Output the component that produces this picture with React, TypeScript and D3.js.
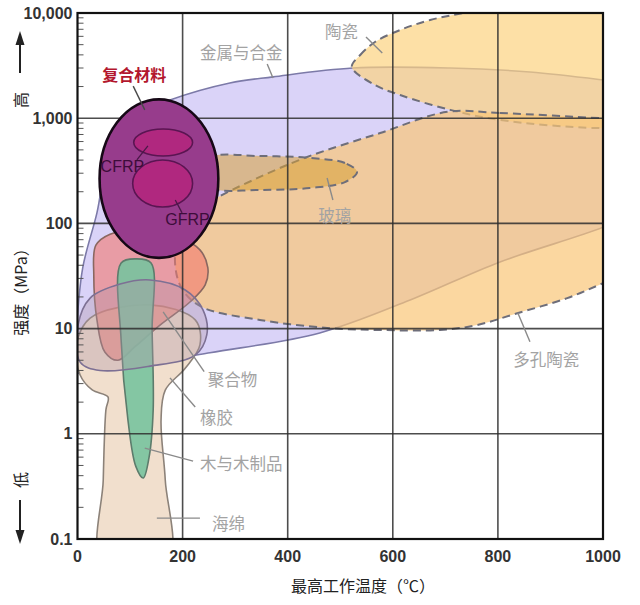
import React from "react";
import * as d3 from "d3";

const W = 640;
const H = 605;

// 每个区域的轮廓点：[最高工作温度 ℃, 强度 MPa]
const metals: [number, number][] = [
  [-5, 3.9], [-2, 9.7], [10, 38], [37, 126], [62, 500], [109, 1070], [176, 1490],
  [290, 2160], [372, 2470], [524, 3000], [709, 3000], [861, 2750], [1000, 2310],
  [1070, 2070], [1070, 134], [1000, 92], [804, 43], [633, 18.7], [461, 9.1],
  [252, 5.9], [81, 4.3],
];
const ceramics: [number, number][] = [
  [522, 3070], [538, 3990], [566, 5300], [614, 6890], [671, 8570], [747, 10200],
  [918, 12700], [1108, 11900], [1165, 2870], [1089, 861], [989, 807], [804, 962],
  [709, 1200], [614, 1660], [566, 2070],
];
const porousCeramics: [number, number][] = [
  [704, 1150], [804, 1120], [1000, 1000], [1108, 960], [1146, 56], [1000, 27],
  [932, 19.5], [837, 14], [760, 10.8], [690, 9.7], [576, 9.7], [480, 10.1],
  [347, 12.1], [233, 16.4], [195, 26], [186, 56], [205, 108], [258, 167],
  [334, 258], [437, 428], [576, 723],
];
const glass: [number, number][] = [
  [532, 308], [509, 375], [442, 419], [347, 437], [252, 428], [224, 308],
  [252, 217], [347, 208], [442, 217], [509, 247],
];
const foams: [number, number][] = [
  [47, 0.063], [49, 0.364], [54, 1.68], [58, 2.24], [28, 2.61], [5, 3.62], [-2, 7.0],
  [24, 12.6], [138, 16.8], [224, 12.1], [233, 7.0], [205, 4.2], [167, 2.6],
  [159, 1.35], [167, 0.364], [172, 0.063],
];
const polymers: [number, number][] = [
  [35, 62], [62, 79], [119, 86], [195, 73], [233, 56], [248, 38], [243, 26],
  [214, 17.9], [157, 10.8], [109, 6.7], [77, 5.0], [52, 6.0], [37, 12.1], [31, 32],
];
const woods: [number, number][] = [
  [83, 42], [111, 46], [140, 42], [142, 9.7], [144, 1.68], [136, 0.59], [125, 0.38],
  [111, 0.49], [96, 1.35], [83, 7.8],
];
const elastomers: [number, number][] = [
  [1, 10.8], [24, 19.5], [81, 26.5], [138, 29], [205, 23.3], [239, 15], [246, 8.7],
  [224, 5.6], [138, 4.4], [43, 4.0], [5, 4.8],
];

// 椭圆范围：[T最小, T最大, 强度最小, 强度最大]
const compositeRange = [42, 268, 47, 1510];
const cfrpRange = [107, 219, 437, 789];
const gfrpRange = [105, 219, 143, 401];

// 坐标轴
const xTicks = [0, 200, 400, 600, 800, 1000];
const yTicks = [0.1, 1, 10, 100, 1000, 10000];
const yTickLabels = ["0.1", "1", "10", "100", "1,000", "10,000"];

// 标注：文字、文字位置（左端、垂直中心）、引线两端
const labelNames = ["金属与合金", "陶瓷", "玻璃", "多孔陶瓷", "聚合物", "橡胶", "木与木制品", "海绵"];
const labelAt: [number, number][] = [
  [233, 4260], [471, 6740], [458, 120], [829, 5.14], [248, 3.32], [233, 1.44], [233, 0.527], [256, 0.142],
];
const labelLeaders: [number, number][][] = [
  [[361, 3270], [372, 2410]],
  [[549, 5910], [580, 4170]],
  [[475, 270], [486, 167]],
  [[838, 14.1], [861, 7.5]],
  [[163, 14.4], [241, 3.9]],
  [[176, 3.4], [224, 1.8]],
  [[128, 0.73], [220, 0.55]],
  [[151, 0.158], [233, 0.158]],
];

const compLabelAt: [number, number] = [47, 2630];
const compLeader: [number, number][] = [[106, 2020], [128, 1200]];
const cfrpLabelAt: [number, number] = [44, 344];
const cfrpLeader: [number, number][] = [[113, 401], [134, 545]];
const gfrpLabelAt: [number, number] = [167, 108];
const gfrpLeader: [number, number][] = [[186, 167], [199, 126]];

const CJK = "'Noto Sans CJK SC', 'Noto Sans', sans-serif";
const NUM = "'Liberation Sans', Arial, sans-serif";

export default function App() {
  const x = d3.scaleLinear().domain([0, 1000]).range([77.5, 603]);
  const y = d3.scaleLog().domain([0.1, 10000]).range([539, 13]);
  const [x0, x1] = x.range();
  const [y0, y1] = y.range();

  const blob = d3
    .line<[number, number]>()
    .x((d) => x(d[0]))
    .y((d) => y(d[1]))
    .curve(d3.curveCatmullRomClosed.alpha(0.5));
  const seg = d3
    .line<[number, number]>()
    .x((d) => x(d[0]))
    .y((d) => y(d[1]));

  const ellipse = (r: number[]) => ({
    cx: (x(r[0]) + x(r[1])) / 2,
    rx: (x(r[1]) - x(r[0])) / 2,
    cy: (y(r[2]) + y(r[3])) / 2,
    ry: (y(r[2]) - y(r[3])) / 2,
  });

  const dash = { stroke: "#6e6e7a", strokeWidth: 2, strokeDasharray: "8 5" };

  const minor: number[] = y.ticks().filter((v) => !yTicks.includes(v));

  const comp = ellipse(compositeRange);
  const cfrp = ellipse(cfrpRange);
  const gfrp = ellipse(gfrpRange);

  return (
    <svg
      width={W}
      height={H}
      style={{ position: "absolute", left: 0, top: 0, background: "#fff" }}
    >
      <defs>
        <clipPath id="plot">
          <rect x={x0} y={y1} width={x1 - x0} height={y0 - y1} />
        </clipPath>
      </defs>

      <g clipPath="url(#plot)">
        <path d={blob(metals)!} fill="#dad3f8" stroke="#7c7aa8" strokeWidth={1.6} />
        <path d={blob(ceramics)!} fill="rgb(252,211,128)" fillOpacity={0.7} {...dash} />
        <path d={blob(porousCeramics)!} fill="rgb(249,198,119)" fillOpacity={0.7} {...dash} />
        <path d={blob(glass)!} fill="rgb(215,160,55)" fillOpacity={0.55} {...dash} />
        <path d={blob(foams)!} fill="#f1dfcd" stroke="#8c8279" strokeWidth={1.6} />
        <path d={blob(polymers)!} fill="rgb(241,120,110)" fillOpacity={0.6} stroke="#8a6760" strokeWidth={1.6} />
        <path d={blob(woods)!} fill="#78c39f" fillOpacity={0.9} stroke="#5d7c6c" strokeWidth={1.6} />
        <path d={blob(elastomers)!} fill="rgb(175,150,170)" fillOpacity={0.35} stroke="#7d7094" strokeWidth={1.6} />

        {/* grid */}
        {xTicks.slice(1, -1).map((t) => (
          <line key={"gx" + t} x1={x(t)} x2={x(t)} y1={y0} y2={y1} stroke="#2e2e2e" strokeWidth={1.6} strokeOpacity={0.85} />
        ))}
        {yTicks.slice(1, -1).map((t) => (
          <line key={"gy" + t} x1={x0} x2={x1} y1={y(t)} y2={y(t)} stroke="#2e2e2e" strokeWidth={1.6} strokeOpacity={0.85} />
        ))}

        {/* composites */}
        <ellipse {...comp} fill="#973c8c" stroke="#160816" strokeWidth={2.6} />
        <ellipse {...cfrp} fill="#b0287f" stroke="#5a1552" strokeWidth={1.6} />
        <ellipse {...gfrp} fill="#b0287f" stroke="#5a1552" strokeWidth={1.6} />
      </g>

      {/* minor ticks */}
      {minor.map((v) => (
        <line key={"m" + v} x1={x0} x2={x0 + 6} y1={y(v)} y2={y(v)} stroke="#555" strokeWidth={1} />
      ))}

      {/* frame */}
      <rect x={x0} y={y1} width={x1 - x0} height={y0 - y1} fill="none" stroke="#111" strokeWidth={2.2} />

      {/* tick labels */}
      {yTicks.map((t, i) => (
        <text key={"yt" + t} x={x0 - 5} y={y(t)} textAnchor="end" dominantBaseline="central"
          fontFamily={NUM} fontWeight="bold" fontSize={16} fill="#333">
          {yTickLabels[i]}
        </text>
      ))}
      {xTicks.map((t) => (
        <text key={"xt" + t} x={x(t)} y={y0 + 17} textAnchor="middle" dominantBaseline="central"
          fontFamily={NUM} fontWeight="bold" fontSize={16} fill="#333">
          {t}
        </text>
      ))}

      {/* axis titles */}
      <text x={363} y={585} textAnchor="middle" dominantBaseline="central" fontFamily={CJK} fontSize={16} fill="#222">
        最高工作温度（℃）
      </text>
      <text transform="translate(20,288) rotate(-90)" textAnchor="middle" dominantBaseline="central"
        fontFamily={CJK} fontSize={16} fill="#222">
        强度（MPa）
      </text>
      <text transform="translate(20,100) rotate(-90)" textAnchor="middle" dominantBaseline="central"
        fontFamily={CJK} fontSize={16} fill="#222">
        高
      </text>
      <text transform="translate(20,480) rotate(-90)" textAnchor="middle" dominantBaseline="central"
        fontFamily={CJK} fontSize={16} fill="#222">
        低
      </text>
      <line x1={20} x2={20} y1={42} y2={73} stroke="#222" strokeWidth={2} />
      <path d="M20,31 L15.5,45 L24.5,45 Z" fill="#222" />
      <line x1={20} x2={20} y1={500} y2={532} stroke="#222" strokeWidth={2} />
      <path d="M20,544 L15.5,530 L24.5,530 Z" fill="#222" />

      {/* region labels */}
      {labelNames.map((name, i) => (
        <g key={name}>
          <path d={seg(labelLeaders[i])!} stroke="#8a8a8a" strokeWidth={1.4} fill="none" />
          <text x={x(labelAt[i][0])} y={y(labelAt[i][1])} dominantBaseline="central"
            fontFamily={CJK} fontSize={16.5} fill="#a3a3a3">
            {name}
          </text>
        </g>
      ))}

      <path d={seg(compLeader)!} stroke="#4a4a4a" strokeWidth={1.4} fill="none" />
      <text x={x(compLabelAt[0])} y={y(compLabelAt[1])} dominantBaseline="central"
        fontFamily={CJK} fontWeight="bold" fontSize={16} fill="#b3172e">
        复合材料
      </text>
      <path d={seg(cfrpLeader)!} stroke="#4a1848" strokeWidth={1.3} fill="none" />
      <text x={x(cfrpLabelAt[0])} y={y(cfrpLabelAt[1])} dominantBaseline="central"
        fontFamily={NUM} fontSize={16} fill="#3d0d3a">
        CFRP
      </text>
      <path d={seg(gfrpLeader)!} stroke="#4a1848" strokeWidth={1.3} fill="none" />
      <text x={x(gfrpLabelAt[0])} y={y(gfrpLabelAt[1])} dominantBaseline="central"
        fontFamily={NUM} fontSize={16} fill="#3d0d3a">
        GFRP
      </text>
    </svg>
  );
}
